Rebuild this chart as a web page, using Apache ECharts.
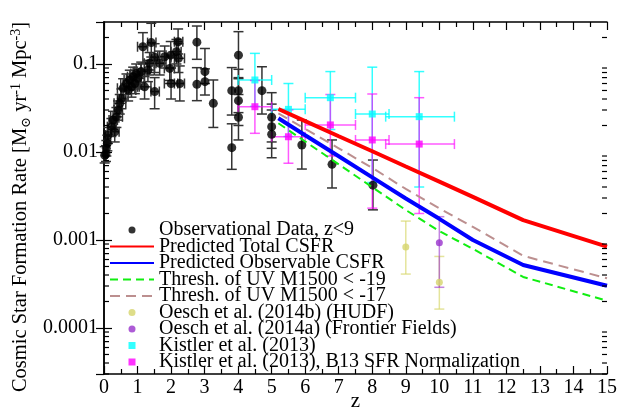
<!DOCTYPE html>
<html>
<head>
<meta charset="utf-8">
<script src="https://cdn.jsdelivr.net/npm/echarts@6/dist/echarts.min.js"></script>
<style>
  html, body { margin: 0; padding: 0; background: #fff; }
  #chart { width: 618px; height: 410px; }
</style>
</head>
<body>
<div id="chart"></div>
<script>
// Observational compilation (z < 9): redshift, SFR density, vertical bounds, redshift bin edges
const obsZ = [0.02, 0.06, 0.07, 0.10, 0.12, 0.22, 0.27, 0.32, 0.37, 0.42, 0.47, 0.52, 0.57, 0.67, 0.72, 0.77, 0.82, 0.87, 0.92, 0.96,
  1.01, 1.11, 1.16, 1.21, 1.31, 1.36, 1.41, 1.51, 1.51, 1.66, 1.81, 1.96, 1.99, 2.0, 2.16, 2.21, 2.22, 2.26,
  2.77, 2.77, 3.01, 3.01, 3.26, 3.81, 3.81, 4.01, 4.01, 4.01, 4.01, 4.71, 5.0, 5.0, 5.0, 5.9, 6.8, 8.02];
const obsSFR = [0.0092, 0.0095, 0.011, 0.0126, 0.0156, 0.0194, 0.0231, 0.017, 0.0251, 0.030, 0.0357, 0.0407, 0.053, 0.060, 0.0507, 0.066, 0.055, 0.0718, 0.060, 0.078,
  0.0687, 0.082, 0.157, 0.055, 0.0855, 0.102, 0.175, 0.0486, 0.119, 0.102, 0.121, 0.089, 0.126, 0.060, 0.138, 0.179, 0.116, 0.060,
  0.177, 0.0588, 0.0818, 0.063, 0.0357, 0.0498, 0.0112, 0.126, 0.0498, 0.0383, 0.0248, 0.0498, 0.0248, 0.0194, 0.0159, 0.012, 0.00724, 0.0042];
const obsLow = [0.0075, 0.0078, 0.009, 0.0103, 0.0125, 0.015, 0.018, 0.013, 0.019, 0.023, 0.027, 0.031, 0.04, 0.045, 0.038, 0.05, 0.042, 0.054, 0.046, 0.058,
  0.052, 0.062, 0.1, 0.04, 0.063, 0.075, 0.12, 0.031, 0.08, 0.075, 0.09, 0.065, 0.09, 0.04, 0.1, 0.13, 0.08, 0.038,
  0.113, 0.0383, 0.06, 0.0444, 0.019, 0.0263, 0.00635, 0.068, 0.028, 0.02, 0.0137, 0.027, 0.013, 0.011, 0.0086, 0.0064, 0.0039, 0.0022];
const obsHigh = [0.0115, 0.0118, 0.0135, 0.0155, 0.019, 0.024, 0.029, 0.022, 0.032, 0.038, 0.045, 0.052, 0.068, 0.077, 0.065, 0.085, 0.07, 0.092, 0.078, 0.1,
  0.088, 0.105, 0.227, 0.072, 0.11, 0.135, 0.29, 0.07, 0.17, 0.14, 0.16, 0.12, 0.18, 0.09, 0.19, 0.25, 0.17, 0.095,
  0.27, 0.0908, 0.15, 0.088, 0.0658, 0.091, 0.0209, 0.233, 0.087, 0.07, 0.045, 0.093, 0.0472, 0.035, 0.03, 0.0231, 0.0137, 0.0081];
const obsZLow = [0, 0.01, 0.02, 0.05, 0.05, 0.1, 0.15, 0.2, 0.2, 0.3, 0.3, 0.4, 0.4, 0.5, 0.5, 0.6, 0.6, 0.7, 0.75, 0.8,
  0.8, 0.9, 1.0, 1.0, 1.1, 1.2, 1.3, 1.4, 1.4, 1.5, 1.6, 1.8, 1.85, 1.8, 2.0, 2.1, 2.1, 2.1];
const obsZHigh = [0.05, 0.1, 0.12, 0.15, 0.2, 0.35, 0.4, 0.45, 0.55, 0.55, 0.65, 0.65, 0.75, 0.85, 0.95, 0.95, 1.05, 1.05, 1.1, 1.15,
  1.2, 1.3, 1.3, 1.4, 1.5, 1.55, 1.55, 1.65, 1.65, 1.85, 2.0, 2.1, 2.15, 2.2, 2.3, 2.35, 2.4, 2.4];

// Model predictions on a redshift grid
const modelZ = [5.2, 6, 7, 8, 9, 10, 11, 12.5, 15];
const totalCSFR = [0.0308, 0.0224, 0.0151, 0.0102, 0.00684, 0.0046, 0.00309, 0.00168, 0.00084];
const observableCSFR = [0.0242, 0.0155, 0.00893, 0.00514, 0.00296, 0.00174, 0.0010, 0.00052, 0.000302];
const threshM19 = [0.0212, 0.01315, 0.00724, 0.00398, 0.00219, 0.00126, 0.000794, 0.00038, 0.000204];
const threshM17 = [0.0275, 0.0183, 0.0110, 0.0066, 0.0038, 0.00229, 0.00141, 0.00066, 0.000367];

// Oesch et al. (2014b) HUDF
const oeschHudfZ = [9.0, 10.0];
const oeschHudfSFR = [0.00083, 0.00033];
const oeschHudfLow = [0.00041, 0.000164];
const oeschHudfHigh = [0.00164, 0.00065];
// Oesch et al. (2014a) Frontier Fields
const oeschFfZ = [10.0];
const oeschFfSFR = [0.00093];
const oeschFfLow = [0.00029];
const oeschFfHigh = [0.00184];

// Kistler et al. (2013), both normalisations
const kistZ = [4.5, 5.5, 6.75, 8.0, 9.4];
const kistZLow = [4.0, 5.0, 6.0, 7.5, 8.4];
const kistZHigh = [5.0, 6.0, 7.5, 8.5, 10.45];
const kistSFR = [0.0658, 0.0305, 0.0414, 0.027, 0.0252];
const kistLow = [0.033, 0.015, 0.018, 0.0045, 0.0040];
const kistHigh = [0.132, 0.060, 0.082, 0.092, 0.082];
const kistB13SFR = [0.0327, 0.0149, 0.0203, 0.0137, 0.0123];
const kistB13Low = [0.0163, 0.00745, 0.009, 0.0023, 0.0020];
const kistB13High = [0.065, 0.030, 0.045, 0.0456, 0.0414];

// Axis settings
const zMin = 0, zMax = 15;
const sfrMin = 3e-5, sfrMax = 0.3;
const decades = [1e-5, 1e-4, 1e-3, 1e-2, 1e-1];
const minorMultipliers = [2, 3, 4, 5, 6, 7, 8, 9];

const FONT = 'Liberation Serif';
const SQUARE = 'path://M0,0L10,0L10,10L0,10Z';

const pairs = (xs, ys) => xs.map((x, i) => [x, ys[i]]);
const rows = (xs, ys, lo, hi, xlo, xhi) =>
  xs.map((x, i) => [x, ys[i], lo ? lo[i] : null, hi ? hi[i] : null,
    xlo && xlo[i] != null ? xlo[i] : null, xhi && xhi[i] != null ? xhi[i] : null]);

function errorBars(id, data, color, opacity) {
  return {
    type: 'custom', id: id, silent: true, z: 2,
    dimensions: ['x', 'y', 'lo', 'hi', 'xlo', 'xhi'],
    encode: { x: 0, y: 1 },
    data: data,
    renderItem: function (params, api) {
      const x = api.value(0), y = api.value(1);
      const lo = api.value(2), hi = api.value(3), xl = api.value(4), xh = api.value(5);
      const cap = 5;
      const style = { stroke: color, lineWidth: 1.5, opacity: opacity };
      const kids = [];
      const seg = (x1, y1, x2, y2) => kids.push({ type: 'line', shape: { x1, y1, x2, y2 }, style });
      if (isFinite(lo) && isFinite(hi) && lo > 0 && hi > 0) {
        const a = api.coord([x, lo]), b = api.coord([x, hi]);
        seg(a[0], a[1], b[0], b[1]);
        seg(a[0] - cap, a[1], a[0] + cap, a[1]);
        seg(b[0] - cap, b[1], b[0] + cap, b[1]);
      }
      if (isFinite(xl) && isFinite(xh)) {
        const a = api.coord([xl, y]), b = api.coord([xh, y]);
        seg(a[0], a[1], b[0], b[1]);
        seg(a[0], a[1] - cap, a[0], a[1] + cap);
        seg(b[0], b[1] - cap, b[0], b[1] + cap);
      }
      return { type: 'group', children: kids };
    }
  };
}

// Logarithmic minor ticks (2..9 per decade) on both vertical frame edges
const minorTickValues = [];
decades.forEach(d => minorMultipliers.forEach(m => {
  const v = d * m;
  if (v > sfrMin && v < sfrMax) minorTickValues.push([zMin, v]);
}));

const minorTickSeries = {
  type: 'custom', id: 'logMinorTicks', silent: true, z: 10,
  data: minorTickValues,
  encode: { x: 0, y: 1 },
  renderItem: function (params, api) {
    const v = api.value(1);
    const l = api.coord([zMin, v]), r = api.coord([zMax, v]);
    const style = { stroke: '#000', lineWidth: 1.2 };
    return {
      type: 'group', children: [
        { type: 'line', shape: { x1: l[0], y1: l[1], x2: l[0] + 5, y2: l[1] }, style },
        { type: 'line', shape: { x1: r[0] - 5, y1: r[1], x2: r[0], y2: r[1] }, style }
      ]
    };
  }
};

const decadeLabel = v => {
  const e = Math.log10(v);
  if (Math.abs(e - Math.round(e)) > 1e-6) return '';
  const n = -Math.round(e);
  return n > 0 ? v.toFixed(n) : String(Math.round(v));
};

const axisLine = { show: true, lineStyle: { color: '#000', width: 1.5 } };
const noSymbol = { opacity: 0 };

const chart = echarts.init(document.getElementById('chart'), null, { renderer: 'canvas' });

chart.setOption({
  animation: false,
  backgroundColor: '#fff',
  grid: { left: 104, right: 11, top: 22, bottom: 36, containLabel: false, outerBoundsMode: 'none' },
  xAxis: [{
    type: 'value', min: zMin, max: zMax, interval: 1, position: 'bottom',
    name: 'z', nameLocation: 'middle', nameGap: 17, nameMoveOverlap: false,
    nameTextStyle: { fontFamily: FONT, fontSize: 21, color: '#000' },
    axisLine: axisLine,
    axisTick: { inside: true, length: 8, lineStyle: { color: '#000', width: 1.2 } },
    minorTick: { show: true, splitNumber: 2, length: 5, lineStyle: { color: '#000', width: 1.2 } },
    axisLabel: { fontFamily: FONT, fontSize: 20, color: '#000', margin: 4 },
    splitLine: { show: false }
  }, {
    type: 'value', min: zMin, max: zMax, interval: 1, position: 'top',
    axisLine: axisLine,
    axisTick: { inside: true, length: 8, lineStyle: { color: '#000', width: 1.2 } },
    minorTick: { show: true, splitNumber: 2, length: 5, lineStyle: { color: '#000', width: 1.2 } },
    axisLabel: { show: false },
    splitLine: { show: false }
  }],
  yAxis: [{
    type: 'log', logBase: 10, min: sfrMin, max: sfrMax, position: 'left',
    name: 'Cosmic Star Formation Rate [M{sub|\u2299} yr{sup|-1} Mpc{sup|-3}]',
    nameLocation: 'middle', nameGap: 71, nameRotate: 90, nameMoveOverlap: false,
    nameTextStyle: {
      fontFamily: FONT, fontSize: 20.5, color: '#000', lineHeight: 24, padding: [0, 18, 0, 0],
      rich: {
        sub: { fontFamily: 'DejaVu Serif', fontSize: 13, verticalAlign: 'bottom', lineHeight: 24, color: '#000' },
        sup: { fontFamily: FONT, fontSize: 14, verticalAlign: 'top', lineHeight: 24, color: '#000' }
      }
    },
    axisLine: axisLine,
    axisTick: { inside: true, length: 8, lineStyle: { color: '#000', width: 1.2 } },
    axisLabel: { fontFamily: FONT, fontSize: 20, color: '#000', margin: 6, formatter: decadeLabel,
      showMinLabel: false, showMaxLabel: false },
    splitLine: { show: false }
  }, {
    type: 'log', logBase: 10, min: sfrMin, max: sfrMax, position: 'right',
    axisLine: axisLine,
    axisTick: { inside: true, length: 8, lineStyle: { color: '#000', width: 1.2 } },
    axisLabel: { show: false },
    splitLine: { show: false }
  }],
  legend: {
    left: 104, top: 215, orient: 'vertical',
    itemWidth: 44, itemHeight: 7, itemGap: -3.5,
    textStyle: { fontFamily: FONT, fontSize: 20, color: '#000' },
    selectedMode: false,
    symbolKeepAspect: true,
    data: [
      { name: 'Observational Data, z<9' },
      { name: 'Predicted Total CSFR', itemStyle: noSymbol },
      { name: 'Predicted Observable CSFR', itemStyle: noSymbol },
      { name: 'Thresh. of UV M1500 < -19', itemStyle: noSymbol },
      { name: 'Thresh. of UV M1500 < -17', itemStyle: noSymbol },
      { name: 'Oesch et al. (2014b) (HUDF)' },
      { name: 'Oesch et al. (2014a) (Frontier Fields)' },
      { name: 'Kistler et al. (2013)', icon: SQUARE },
      { name: 'Kistler et al. (2013), B13 SFR Normalization', icon: SQUARE }
    ]
  },
  series: [
    minorTickSeries,
    errorBars('obsErr', rows(obsZ, obsSFR, obsLow, obsHigh, obsZLow, obsZHigh), '#333', 1),
    {
      type: 'scatter', name: 'Observational Data, z<9', z: 3,
      data: pairs(obsZ, obsSFR), symbol: 'circle', symbolSize: 9,
      itemStyle: { color: '#000' }
    },
    errorBars('kistErr', rows(kistZ, kistSFR, kistLow, kistHigh, kistZLow, kistZHigh), '#00ffff', 0.8),
    errorBars('kistB13Err', rows(kistZ, kistB13SFR, kistB13Low, kistB13High, kistZLow, kistZHigh), '#ff00ff', 0.65),
    {
      type: 'scatter', name: 'Kistler et al. (2013)', z: 3,
      data: pairs(kistZ, kistSFR), symbol: 'rect', symbolSize: 7,
      itemStyle: { color: '#00ffff' }
    },
    {
      type: 'scatter', name: 'Kistler et al. (2013), B13 SFR Normalization', z: 3,
      data: pairs(kistZ, kistB13SFR), symbol: 'rect', symbolSize: 7,
      itemStyle: { color: '#ff00ff' }
    },
    errorBars('oeschHudfErr', rows(oeschHudfZ, oeschHudfSFR, oeschHudfLow, oeschHudfHigh), '#d8d870', 0.7),
    errorBars('oeschFfErr', rows(oeschFfZ, oeschFfSFR, oeschFfLow, oeschFfHigh), '#9932cc', 0.6),
    {
      type: 'scatter', name: 'Oesch et al. (2014b) (HUDF)', z: 3,
      data: pairs(oeschHudfZ, oeschHudfSFR), symbol: 'circle', symbolSize: 7,
      itemStyle: { color: '#d6d46c' }
    },
    {
      type: 'scatter', name: 'Oesch et al. (2014a) (Frontier Fields)', z: 3,
      data: pairs(oeschFfZ, oeschFfSFR), symbol: 'circle', symbolSize: 7,
      itemStyle: { color: '#9932cc' }
    },
    {
      type: 'line', name: 'Thresh. of UV M1500 < -17', z: 4,
      data: pairs(modelZ, threshM17), symbol: 'none', showSymbol: false,
      lineStyle: { color: '#bc8f8f', width: 2, type: [10, 6] }, itemStyle: { color: '#bc8f8f' }
    },
    {
      type: 'line', name: 'Thresh. of UV M1500 < -19', z: 4,
      data: pairs(modelZ, threshM19), symbol: 'none', showSymbol: false,
      lineStyle: { color: '#11ee11', width: 2, type: [8, 5] }, itemStyle: { color: '#11ee11' }
    },
    {
      type: 'line', name: 'Predicted Observable CSFR', z: 5,
      data: pairs(modelZ, observableCSFR), symbol: 'none', showSymbol: false,
      lineStyle: { color: '#0000ff', width: 4 }, itemStyle: { color: '#0000ff' }
    },
    {
      type: 'line', name: 'Predicted Total CSFR', z: 5,
      data: pairs(modelZ, totalCSFR), symbol: 'none', showSymbol: false,
      lineStyle: { color: '#ff0000', width: 4 }, itemStyle: { color: '#ff0000' }
    }
  ]
});
</script>
</body>
</html>
